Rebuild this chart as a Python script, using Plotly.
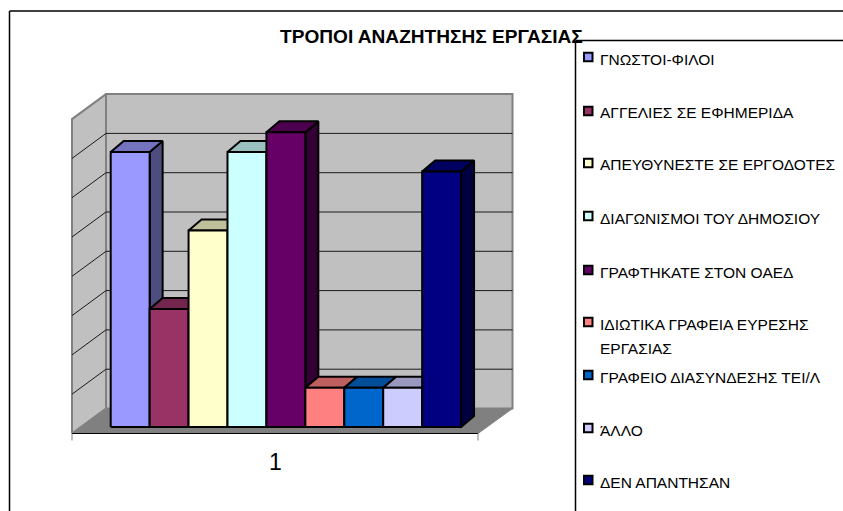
import plotly.graph_objects as go

# ---- data ----
CATEGORIES = ["ΓΝΩΣΤΟΙ-ΦΙΛΟΙ", "ΑΓΓΕΛΙΕΣ ΣΕ ΕΦΗΜΕΡΙΔΑ", "ΑΠΕΥΘΥΝΕΣΤΕ ΣΕ ΕΡΓΟΔΟΤΕΣ",
              "ΔΙΑΓΩΝΙΣΜΟΙ ΤΟΥ ΔΗΜΟΣΙΟΥ", "ΓΡΑΦΤΗΚΑΤΕ ΣΤΟΝ ΟΑΕΔ",
              "ΙΔΙΩΤΙΚΑ ΓΡΑΦΕΙΑ ΕΥΡΕΣΗΣ<br>ΕΡΓΑΣΙΑΣ", "ΓΡΑΦΕΙΟ ΔΙΑΣΥΝΔΕΣΗΣ ΤΕΙ/Λ",
              "ΆΛΛΟ", "ΔΕΝ ΑΠΑΝΤΗΣΑΝ"]
VALUES = [7, 3, 5, 7, 7.5, 1, 1, 1, 6.5]
GRID_VALUES = [1, 2, 3, 4, 5, 6, 7]
AXIS_MAX = 8
TITLE = "ΤΡΟΠΟΙ ΑΝΑΖΗΤΗΣΗΣ ΕΡΓΑΣΙΑΣ"
CATEGORY_LABEL = "1"

FRONT = ["#9999FF", "#993366", "#FFFFCC", "#CCFFFF", "#660066", "#FF8080", "#0066CC", "#CCCCFF", "#000080"]
TOP = ["#7373BF", "#73264D", "#BFBF99", "#99BFBF", "#4D004D", "#BF6060", "#004D99", "#9999BF", "#000060"]
SIDE = ["#4D4D80", "#4D1A33", "#808066", "#668080", "#330033", "#804040", "#003366", "#666680", "#000040"]

# ---- layout geometry (pixels) ----
W, H = 843, 511
PX_X, PX_Y = 38.93, 39.3          # pixels per bar slot / per value unit
X0_PX, Y0_PX = 110.7, 427.0       # where bar 0 starts and value 0 sits
BAR_DX, BAR_DY = 13 / PX_X, 11 / PX_Y
def ux(px): return (px - X0_PX) / PX_X
def uy(px): return (Y0_PX - px) / PX_Y

WALL_L, WALL_R = ux(106), ux(512.5)
FLOOR_L, FLOOR_R = ux(72), ux(478)
BACK0 = uy(408.5)
FRONT0 = uy(433.5)
TOPV = BACK0 + AXIS_MAX
FRONT_OFFSET = FRONT0 - BACK0

fig = go.Figure()

def poly(xs, ys, fill, line="#000000", width=2, name=""):
    fig.add_trace(go.Scatter(x=xs, y=ys, mode="lines", fill="toself", fillcolor=fill,
                             line=dict(color=line, width=width), name=name,
                             showlegend=False, hoverinfo="skip" if not name else "name"))

# walls and floor
poly([FLOOR_L, WALL_L, WALL_L, FLOOR_L, FLOOR_L],
     [FRONT0, BACK0, TOPV, TOPV + FRONT_OFFSET, FRONT0], "#C0C0C0", "#808080", 2)
poly([WALL_L, WALL_R, WALL_R, WALL_L, WALL_L],
     [BACK0, BACK0, TOPV, TOPV, BACK0], "#C0C0C0", "#808080", 2)
poly([FLOOR_L, FLOOR_R, WALL_R, WALL_L, FLOOR_L],
     [FRONT0, FRONT0, BACK0, BACK0, FRONT0], "#808080", "#808080", 1)

# gridlines
gx, gy = [], []
for g in GRID_VALUES:
    gx += [FLOOR_L, WALL_L, WALL_R, None]
    gy += [BACK0 + g + FRONT_OFFSET, BACK0 + g, BACK0 + g, None]
fig.add_trace(go.Scatter(x=gx, y=gy, mode="lines", line=dict(color="#1a1a1a", width=1),
                         showlegend=False, hoverinfo="skip"))

# front floor edge and end ticks
fig.add_trace(go.Scatter(x=[FLOOR_L, FLOOR_R], y=[FRONT0, FRONT0], mode="lines",
                         line=dict(color="#000000", width=1), showlegend=False, hoverinfo="skip"))
tick = 7 / PX_Y
fig.add_trace(go.Scatter(x=[FLOOR_L, FLOOR_L, None, FLOOR_R, FLOOR_R],
                         y=[FRONT0, FRONT0 - tick, None, FRONT0, FRONT0 - tick], mode="lines",
                         line=dict(color="#808080", width=1), showlegend=False, hoverinfo="skip"))

# bars, left to right
for i, v in enumerate(VALUES):
    a, b = i, i + 1
    poly([b, b + BAR_DX, b + BAR_DX, b, b], [0, BAR_DY, v + BAR_DY, v, 0], SIDE[i])
    poly([a, b, b + BAR_DX, a + BAR_DX, a], [v, v, v + BAR_DY, v + BAR_DY, v], TOP[i])
    poly([a, b, b, a, a], [0, 0, v, v, 0], FRONT[i], name=CATEGORIES[i].replace("<br>", " "))

# frame and legend (positions in pixels)
LEGEND_Y = [59, 113, 165, 218, 272, 324, 377, 430, 482]
LINE_STEP = 24
FRAME = dict(color="#000000", width=1.5)
shapes = [
    dict(type="line", xref="paper", yref="paper", x0=9.5 / W, x1=1, y0=1 - 11 / H, y1=1 - 11 / H, line=FRAME),
    dict(type="line", xref="paper", yref="paper", x0=9.5 / W, x1=9.5 / W, y0=0, y1=1 - 11 / H, line=FRAME),
    dict(type="line", xref="paper", yref="paper", x0=575.5 / W, x1=1, y0=1 - 40.5 / H, y1=1 - 40.5 / H, line=FRAME),
    dict(type="line", xref="paper", yref="paper", x0=575.5 / W, x1=575.5 / W, y0=0, y1=1 - 40.5 / H, line=FRAME),
]
annotations = [
    dict(text="<b>%s</b>" % TITLE, x=431.5 / W, y=1 - 36.5 / H, xref="paper", yref="paper",
         showarrow=False, xanchor="center", yanchor="middle",
         font=dict(family="Liberation Sans", size=19.1, color="#000000")),
    dict(text=CATEGORY_LABEL, x=275 / W, y=1 - 462 / H, xref="paper", yref="paper",
         showarrow=False, xanchor="center", yanchor="middle",
         font=dict(family="Liberation Sans", size=23, color="#000000")),
]
for i, label in enumerate(CATEGORIES):
    cy = LEGEND_Y[i]
    swatch_y = cy - 2
    shapes.append(dict(type="rect", xref="paper", yref="paper",
                       x0=584 / W, x1=592.5 / W,
                       y0=1 - (swatch_y + 4.25) / H, y1=1 - (swatch_y - 4.25) / H,
                       fillcolor=FRONT[i], line=dict(color="#000000", width=2)))
    for k, part in enumerate(label.split("<br>")):
        annotations.append(dict(text=part, x=597.5 / W, y=1 - (cy + k * LINE_STEP) / H,
                                xref="paper", yref="paper",
                                showarrow=False, xanchor="left", yanchor="middle", align="left",
                                font=dict(family="Liberation Sans", size=15.5, color="#000000")))

fig.update_layout(
    width=W, height=H, autosize=False,
    margin=dict(l=0, r=0, t=0, b=0),
    paper_bgcolor="#FFFFFF", plot_bgcolor="#FFFFFF",
    showlegend=False,
    xaxis=dict(range=[ux(0), ux(W)], visible=False, fixedrange=True),
    yaxis=dict(range=[uy(H), uy(0)], visible=False, fixedrange=True),
    shapes=shapes, annotations=annotations,
)
fig.write_html("out.html", config={"displayModeBar": False},
               post_script="document.body.style.margin='0';document.body.style.overflow='hidden';")
